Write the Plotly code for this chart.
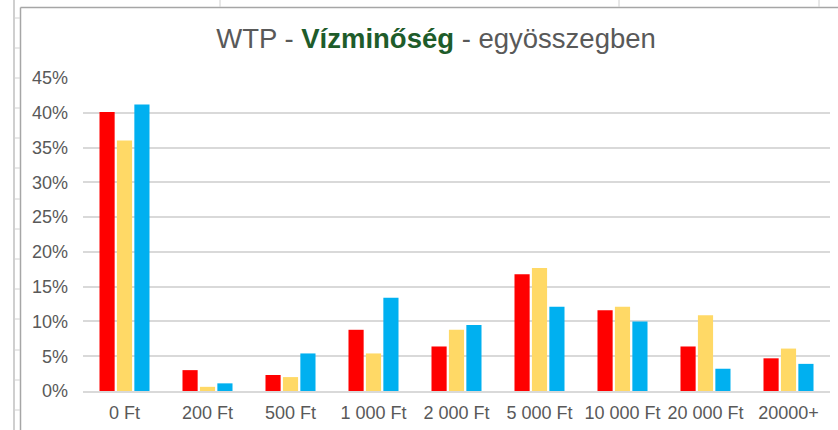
### IMPORTS ###
import plotly.graph_objects as go


### DATA ###
categories = ["0 Ft", "200 Ft", "500 Ft", "1 000 Ft", "2 000 Ft",
              "5 000 Ft", "10 000 Ft", "20 000 Ft", "20000+"]

series_names = ["Sorozat 1", "Sorozat 2", "Sorozat 3"]
red_values = [0.401, 0.030, 0.023, 0.088, 0.064, 0.168, 0.116, 0.064, 0.047]
yellow_values = [0.360, 0.006, 0.020, 0.054, 0.088, 0.177, 0.121, 0.109, 0.061]
blue_values = [0.412, 0.011, 0.054, 0.134, 0.095, 0.121, 0.100, 0.032, 0.039]

y_tickvals = [0, 0.05, 0.10, 0.15, 0.20, 0.25, 0.30, 0.35, 0.40, 0.45]
y_ticktext = ["0%", "5%", "10%", "15%", "20%", "25%", "30%", "35%", "40%", "45%"]

colors = ["#FF0000", "#FFD966", "#00B0F0"]


### LAYOUT GEOMETRY (pixels) ###
W, H = 838, 430
PLOT_L, PLOT_R, PLOT_T, PLOT_B = 83, 830, 78, 391


def px_x(px):  # pixel -> paper x
    return (px - PLOT_L) / (PLOT_R - PLOT_L)


def px_y(py):  # pixel -> paper y
    return (PLOT_B - py) / (PLOT_B - PLOT_T)


### FIGURE ###
fig = go.Figure()

for name, vals, col in zip(series_names, [red_values, yellow_values, blue_values], colors):
    fig.add_trace(go.Bar(x=categories, y=vals, name=name, marker_color=col,
                         marker_line_width=0))

tick_font = dict(family="Liberation Sans, Arial, sans-serif", size=18, color="#595959")

fig.update_layout(
    width=W, height=H,
    margin=dict(l=PLOT_L, r=W - PLOT_R, t=PLOT_T, b=H - PLOT_B),
    paper_bgcolor="white", plot_bgcolor="white",
    barmode="group", bargap=0.37, bargroupgap=0.13,
    showlegend=False,
    title=dict(
        text="WTP - <b><span style='color:#1E5C2A'>Vízminőség</span></b> - egyösszegben",
        font=dict(family="Liberation Sans, Arial, sans-serif", size=27.5, color="#595959"),
        x=px_x(436), xref="paper", xanchor="center",
        y=1 - 38 / H, yref="container", yanchor="middle",
    ),
)

fig.update_yaxes(range=[0, 0.45], tickvals=y_tickvals, ticktext=y_ticktext,
                 showgrid=True, gridcolor="#D9D9D9", gridwidth=1.5,
                 zeroline=False, showline=False, ticks="", automargin=False,
                 ticklabelstandoff=14, tickfont=tick_font)
fig.update_xaxes(showgrid=False, showline=True, linecolor="#D9D9D9", linewidth=1.5,
                 ticks="", ticklabelstandoff=5, automargin=False, tickfont=tick_font)

# spreadsheet frame around the chart
line_gray = dict(color="#A6A6A6", width=1.5)
shapes = [
    dict(type="line", xref="paper", yref="paper", x0=px_x(20.5), x1=px_x(20.5),
         y0=px_y(7.5), y1=px_y(H), line=line_gray),
    dict(type="line", xref="paper", yref="paper", x0=px_x(20.5), x1=px_x(W),
         y0=px_y(7.5), y1=px_y(7.5), line=line_gray),
    dict(type="line", xref="paper", yref="paper", x0=px_x(14), x1=px_x(14),
         y0=px_y(0), y1=px_y(H), line=dict(color="#BFBFBF", width=1.5)),
]
for cx in [220, 619, 819]:
    shapes.append(dict(type="line", xref="paper", yref="paper", x0=px_x(cx), x1=px_x(cx),
                       y0=px_y(0), y1=px_y(7), line=dict(color="#D0D0D0", width=1)))
for ry in [18, 48, 78, 108, 138, 168, 199, 229, 259, 289, 319, 350, 380, 410]:
    shapes.append(dict(type="line", xref="paper", yref="paper", x0=px_x(14), x1=px_x(20),
                       y0=px_y(ry), y1=px_y(ry), line=dict(color="#D0D0D0", width=1)))
fig.update_layout(shapes=shapes)

# drop the default page margin so the figure sits at the window's top-left corner
fig.write_html("out.html", config={"displayModeBar": False},
               post_script="document.body.style.margin='0';")
